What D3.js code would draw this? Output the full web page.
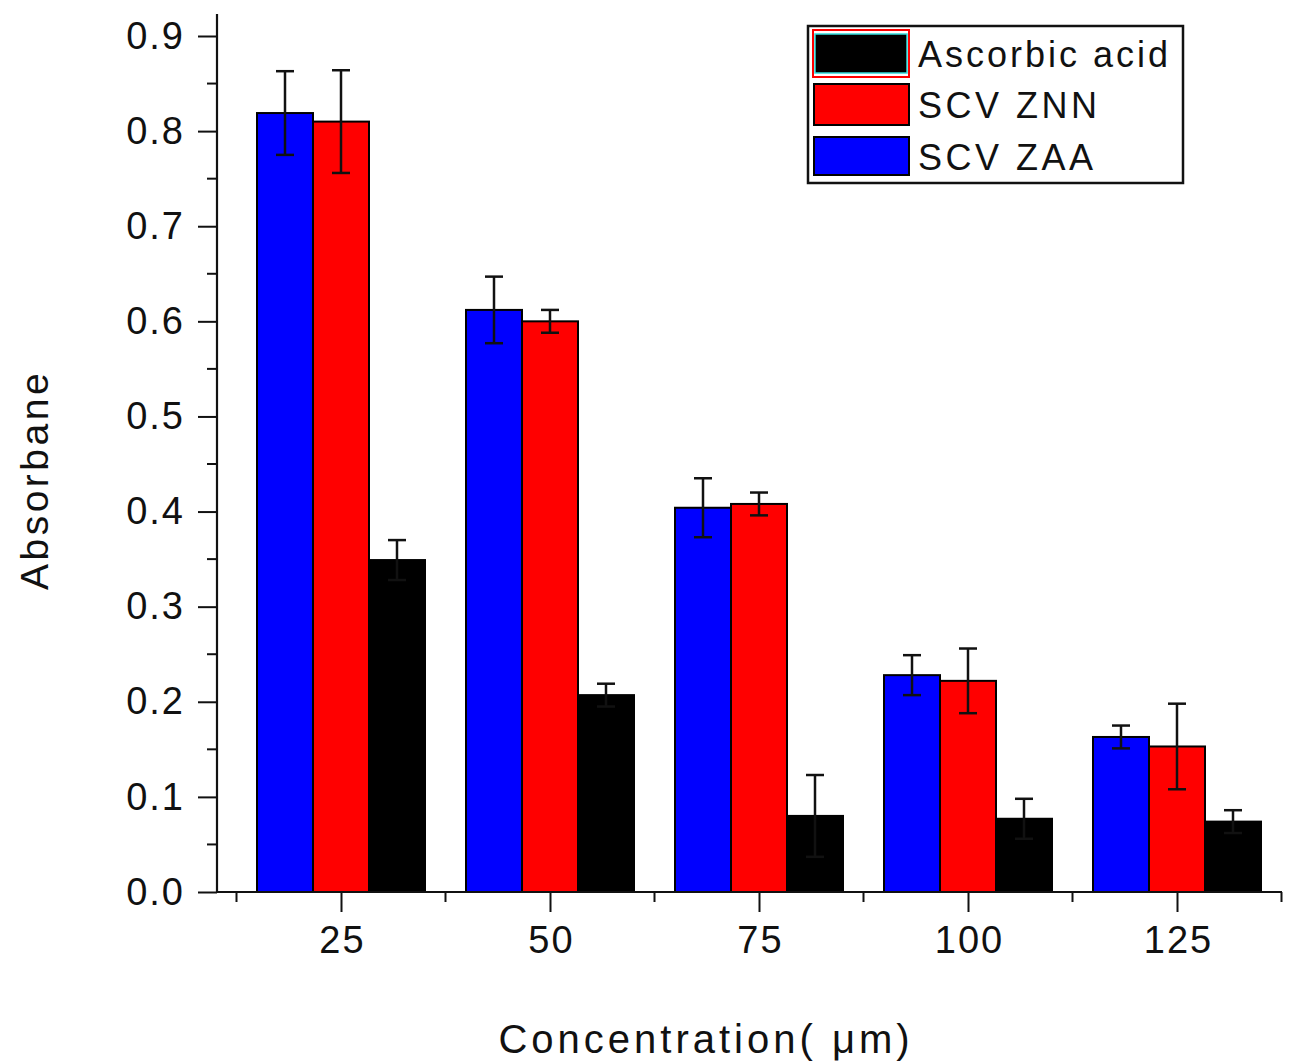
<!DOCTYPE html>
<html>
<head>
<meta charset="utf-8">
<script src="https://cdn.jsdelivr.net/npm/d3@7"></script>
<style>
  body { margin: 0; background: #fff; }
  svg { display: block; font-family: "Liberation Sans", Arial, sans-serif; }
  .tick text { fill: #111; }
</style>
</head>
<body>
<svg id="chart" width="1289" height="1061"></svg>
<script>
// data
const categories = ["25", "50", "75", "100", "125"];
const zaa    = [0.819, 0.612, 0.404, 0.228, 0.163];
const zaaErr = [0.044, 0.035, 0.031, 0.021, 0.012];
const znn    = [0.810, 0.600, 0.408, 0.222, 0.153];
const znnErr = [0.054, 0.012, 0.012, 0.034, 0.045];
const asc    = [0.349, 0.207, 0.080, 0.077, 0.074];
const ascErr = [0.021, 0.012, 0.043, 0.021, 0.012];
const yTicks = [0, 0.1, 0.2, 0.3, 0.4, 0.5, 0.6, 0.7, 0.8, 0.9];
const yMinor = [0.05, 0.15, 0.25, 0.35, 0.45, 0.55, 0.65, 0.75, 0.85];

const series = [
  { name: "SCV ZAA", color: "#0000ff", vals: zaa, errs: zaaErr, off: -1 },
  { name: "SCV ZNN", color: "#ff0000", vals: znn, errs: znnErr, off: 0 },
  { name: "Ascorbic acid", color: "#000000", vals: asc, errs: ascErr, off: 1 }
];
const legendOrder = ["Ascorbic acid", "SCV ZNN", "SCV ZAA"];

const svg = d3.select("#chart");
const axisX0 = 217, axisX1 = 1282, axisY0 = 892, axisTop = 14;

// scales
const y = d3.scaleLinear().domain([0, 0.9]).range([892, 36]);
const x = d3.scaleLinear().domain([0, categories.length - 1]).range([341, 1177]);
const barW = 56;

// bars
const bars = svg.append("g");
series.forEach(s => {
  bars.selectAll(null)
    .data(s.vals)
    .enter()
    .append("rect")
    .attr("x", (d, i) => x(i) + s.off * barW - barW / 2)
    .attr("y", d => y(d))
    .attr("width", barW)
    .attr("height", d => y(0) - y(d))
    .attr("fill", s.color)
    .attr("stroke", "#000")
    .attr("stroke-width", 2);
});

// error bars
const errs = svg.append("g").attr("stroke", "#111").attr("stroke-width", 2.5);
series.forEach(s => {
  s.vals.forEach((v, i) => {
    const cx = x(i) + s.off * barW;
    const hi = y(v + s.errs[i]), lo = y(v - s.errs[i]);
    errs.append("line").attr("x1", cx).attr("x2", cx).attr("y1", hi).attr("y2", lo);
    errs.append("line").attr("x1", cx - 9).attr("x2", cx + 9).attr("y1", hi).attr("y2", hi);
    errs.append("line").attr("x1", cx - 9).attr("x2", cx + 9).attr("y1", lo).attr("y2", lo);
  });
});

// y axis
const yAxis = d3.axisLeft(y).tickValues(yTicks).tickFormat(d3.format(".1f"))
  .tickSize(19).tickPadding(15).tickSizeOuter(0);
const gy = svg.append("g").attr("transform", `translate(${axisX0},0)`).call(yAxis);
gy.select(".domain").remove();
gy.selectAll(".tick line").attr("stroke", "#111").attr("stroke-width", 2);
gy.selectAll(".tick text").attr("font-size", 38).attr("letter-spacing", 2).attr("dx", 2);
gy.selectAll(null).data(yMinor).enter().append("line")
  .attr("x1", -10).attr("x2", 0).attr("y1", d => y(d)).attr("y2", d => y(d))
  .attr("stroke", "#111").attr("stroke-width", 2);
svg.append("line").attr("x1", axisX0).attr("x2", axisX0).attr("y1", axisTop).attr("y2", axisY0 + 1)
  .attr("stroke", "#111").attr("stroke-width", 2.2);

// x axis
const xAxis = d3.axisBottom(x).tickValues(d3.range(categories.length))
  .tickFormat(i => categories[i]).tickSize(20).tickPadding(14).tickSizeOuter(0);
const gx = svg.append("g").attr("transform", `translate(0,${axisY0})`).call(xAxis);
gx.select(".domain").remove();
gx.selectAll(".tick line").attr("stroke", "#111").attr("stroke-width", 2);
gx.selectAll(".tick text").attr("font-size", 38).attr("letter-spacing", 2).attr("dx", 1);
gx.selectAll(null).data(d3.range(categories.length + 1).map(i => i - 0.5)).enter().append("line")
  .attr("x1", d => x(d)).attr("x2", d => x(d)).attr("y1", 0).attr("y2", 10)
  .attr("stroke", "#111").attr("stroke-width", 2);
svg.append("line").attr("x1", axisX0).attr("x2", axisX1).attr("y1", axisY0).attr("y2", axisY0)
  .attr("stroke", "#111").attr("stroke-width", 2.2);

// axis titles
svg.append("text")
  .attr("transform", "translate(48,480) rotate(-90)")
  .attr("text-anchor", "middle")
  .attr("font-size", 39).attr("letter-spacing", 3.5).attr("fill", "#111")
  .text("Absorbane");
svg.append("text")
  .attr("x", 706).attr("y", 1053)
  .attr("text-anchor", "middle")
  .attr("font-size", 40).attr("letter-spacing", 4).attr("fill", "#111")
  .text("Concentration( \u03bcm)");

// legend
const leg = svg.append("g");
leg.append("rect").attr("x", 808).attr("y", 26).attr("width", 375).attr("height", 157)
  .attr("fill", "#fff").attr("stroke", "#111").attr("stroke-width", 2.5);
const rowsY = [31, 84, 137];
const rowH = [46, 41, 38];
legendOrder.forEach((name, k) => {
  const s = series.find(d => d.name === name);
  if (k === 0) {
    leg.append("rect").attr("x", 813).attr("y", 30).attr("width", 96).attr("height", 47)
      .attr("fill", "#fff").attr("stroke", "#ff0000").attr("stroke-width", 2);
    leg.append("rect").attr("x", 815).attr("y", 34).attr("width", 92).attr("height", 39)
      .attr("fill", s.color).attr("stroke", "#33dddd").attr("stroke-width", 1.5);
  } else {
    leg.append("rect").attr("x", 814).attr("y", rowsY[k]).attr("width", 95).attr("height", rowH[k])
      .attr("fill", s.color).attr("stroke", "#000").attr("stroke-width", 2);
  }
  leg.append("text").attr("x", 918).attr("y", [67, 118, 170][k])
    .attr("font-size", 36).attr("letter-spacing", [3, 3.5, 3.5][k]).attr("fill", "#111")
    .text(name);
});
</script>
</body>
</html>
